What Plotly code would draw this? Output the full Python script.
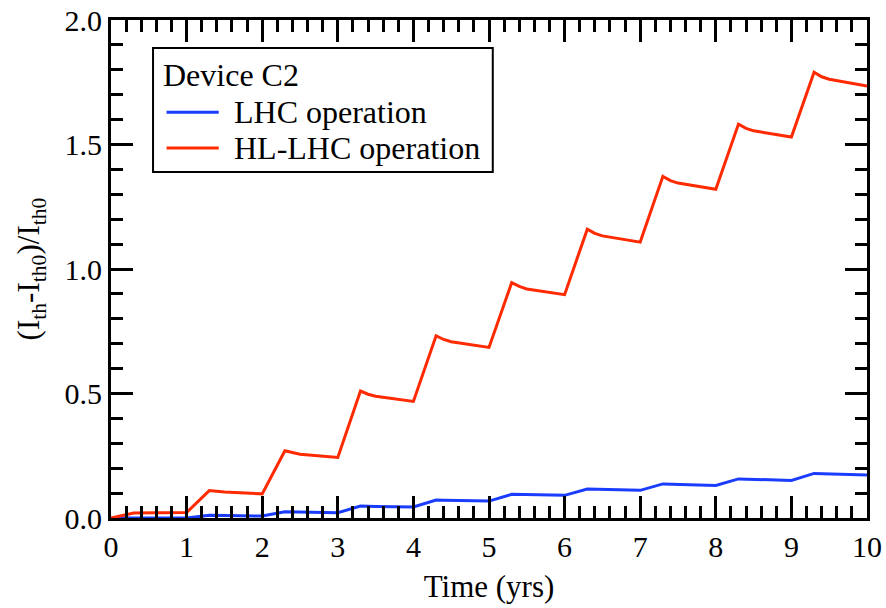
import plotly.graph_objects as go

# Time axis (years) shared by both curves
time_yrs = [0.0, 0.3, 1.0, 1.3, 1.5, 2.0, 2.3, 2.4, 2.5, 3.0, 3.3, 3.4, 3.5, 4.0,
            4.3, 4.4, 4.5, 5.0, 5.3, 5.4, 5.5, 6.0, 6.3, 6.4, 6.5, 7.0,
            7.3, 7.4, 7.5, 8.0, 8.3, 8.4, 8.5, 9.0, 9.3, 9.4, 9.5, 10.0]

# Relative threshold-current increase, (Ith - Ith0)/Ith0
lhc_values = [0.0, 0.0, 0.0, 0.011, 0.010, 0.008, 0.025, 0.024, 0.023, 0.021,
              0.048, 0.047, 0.046, 0.044, 0.072, 0.071, 0.070, 0.068,
              0.095, 0.094, 0.093, 0.091, 0.116, 0.115, 0.114, 0.111,
              0.137, 0.136, 0.135, 0.131, 0.157, 0.156, 0.155, 0.151,
              0.179, 0.178, 0.177, 0.173]

hllhc_values = [0.0, 0.020, 0.022, 0.110, 0.104, 0.097, 0.270, 0.262, 0.256, 0.243,
                0.510, 0.497, 0.489, 0.468, 0.732, 0.717, 0.708, 0.685,
                0.945, 0.930, 0.920, 0.897, 1.160, 1.143, 1.133, 1.108,
                1.372, 1.355, 1.345, 1.320, 1.582, 1.565, 1.555, 1.530,
                1.790, 1.772, 1.762, 1.735]

series_names = ["LHC operation", "HL-LHC operation"]
series_colors = ["#1a3cff", "#ff2a00"]
legend_title = "Device C2"

FONT = "Liberation Serif"

fig = go.Figure()
for name, vals, col in zip(series_names, [lhc_values, hllhc_values], series_colors):
    fig.add_trace(go.Scatter(x=time_yrs, y=vals, mode="lines", name=name,
                             line=dict(color=col, width=3), showlegend=False))

axis_common = dict(
    showline=True, linecolor="black", linewidth=3, mirror="allticks",
    ticks="inside", ticklen=22, tickwidth=3, tickcolor="black",
    showgrid=False, zeroline=False,
    tickfont=dict(family=FONT, size=30, color="black"),
)

fig.update_xaxes(range=[0, 10], dtick=1, tick0=0,
                 minor=dict(dtick=0.2, ticks="inside", ticklen=12, tickwidth=3,
                            tickcolor="black", showgrid=False),
                 title=dict(text="Time (yrs)", font=dict(family=FONT, size=31, color="black"),
                            standoff=14),
                 **axis_common)
fig.update_yaxes(range=[0, 2.0], dtick=0.5, tick0=0, tickformat=".1f",
                 minor=dict(dtick=0.1, ticks="inside", ticklen=12, tickwidth=3,
                            tickcolor="black", showgrid=False),
                 title=dict(text="(I<sub>th</sub>-I<sub>th0</sub>)/I<sub>th0</sub>",
                            font=dict(family=FONT, size=31, color="black"), standoff=16),
                 **axis_common)

# Legend panel drawn in plot-area (domain) coordinates
box_x0, box_x1, box_y0, box_y1 = 0.0556, 0.505, 0.695, 0.944
sample_x0, sample_x1, label_x = 0.0735, 0.1425, 0.1595
row_y = [0.815, 0.743]

shapes = [dict(type="rect", xref="x domain", yref="y domain",
               x0=box_x0, x1=box_x1, y0=box_y0, y1=box_y1,
               line=dict(color="black", width=2), fillcolor="white", layer="above")]
annotations = [dict(text=legend_title, xref="x domain", yref="y domain",
                    x=0.066, y=0.889, xanchor="left", yanchor="middle", showarrow=False,
                    font=dict(family=FONT, size=32, color="black"))]
for name, col, ry in zip(series_names, series_colors, row_y):
    shapes.append(dict(type="line", xref="x domain", yref="y domain",
                       x0=sample_x0, x1=sample_x1, y0=ry, y1=ry,
                       line=dict(color=col, width=3), layer="above"))
    annotations.append(dict(text=name, xref="x domain", yref="y domain",
                            x=label_x, y=ry, xanchor="left", yanchor="middle",
                            showarrow=False,
                            font=dict(family=FONT, size=32, color="black")))

fig.update_layout(
    width=886, height=608,
    margin=dict(l=111, r=19, t=20, b=90, autoexpand=False),
    paper_bgcolor="white", plot_bgcolor="white",
    font=dict(family=FONT, color="black"),
    shapes=shapes, annotations=annotations,
)

fig.write_html("out.html")
